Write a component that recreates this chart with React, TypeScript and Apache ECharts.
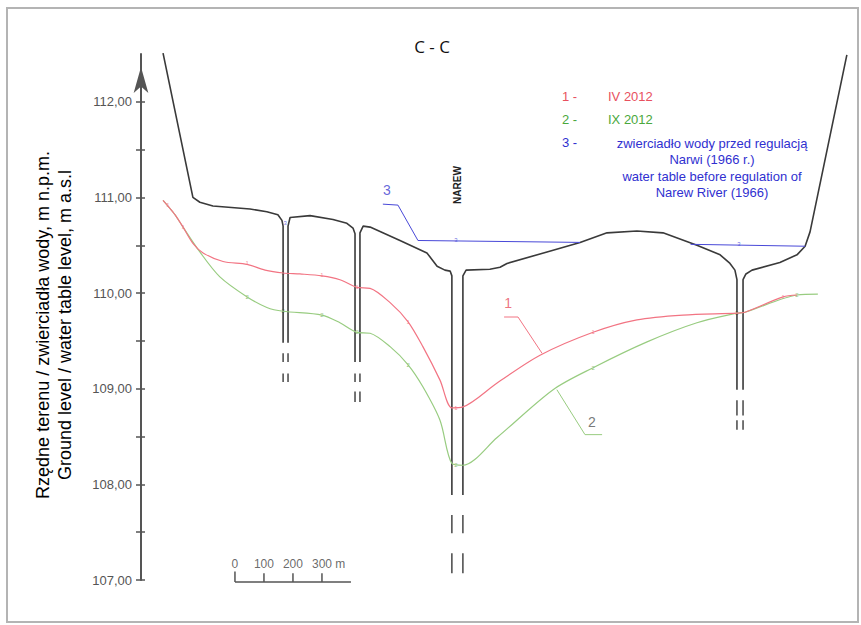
import React, { useEffect, useRef } from "react";
import * as echarts from "echarts";

// ---- data (distance in m along section, elevation in m a.s.l.) ----
const Y_MIN = 107;
const Y_MAX = 112.5;
const X_MAX = 2450;
const yTickValues = [107, 107.5, 108, 108.5, 109, 109.5, 110, 110.5, 111, 111.5, 112];
const yLabelValues = [107, 108, 109, 110, 111, 112];

const groundLeft = [[76, 112.51], [179, 111.0], [203, 110.95], [248, 110.91], [376, 110.88], [434, 110.85], [472, 110.82], [486, 110.76], [490, 110.7], [490, 109.48]];
const groundWell1to2 = [[507, 109.48], [507, 110.7], [514, 110.79], [583, 110.81], [662, 110.77], [710, 110.73], [731, 110.68], [738, 110.62], [738, 109.28]];
const groundWell2toNarew = [[755, 109.28], [755, 110.63], [766, 110.7], [790, 110.69], [893, 110.55], [986, 110.42], [1021, 110.28], [1048, 110.24], [1066, 110.23], [1072, 110.18], [1072, 107.89]];
const groundNarewToWell4 = [[1110, 107.89], [1110, 110.18], [1121, 110.24], [1203, 110.25], [1238, 110.27], [1262, 110.31], [1400, 110.43], [1514, 110.53], [1607, 110.63], [1710, 110.65], [1800, 110.63], [1917, 110.5], [1997, 110.4], [2031, 110.31], [2048, 110.24], [2055, 110.14], [2055, 108.99]];
const groundRight = [[2076, 108.99], [2076, 110.14], [2086, 110.2], [2107, 110.24], [2203, 110.32], [2262, 110.4], [2290, 110.49], [2307, 110.64], [2434, 112.49]];

// wells: wall positions and dashed continuation below
const wells = [
  { walls: [490, 507], dashes: [[109.37, 109.28], [109.16, 109.07]] },
  { walls: [738, 755], dashes: [[109.16, 109.07], [108.97, 108.86]] },
  { walls: [1072, 1110], dashes: [[107.68, 107.49], [107.28, 107.07]] },
  { walls: [2055, 2076], dashes: [[108.88, 108.72], [108.67, 108.57]] },
];

// 1 - IV 2012
const line1 = [[76, 110.97], [93, 110.91], [117, 110.82], [145, 110.69], [179, 110.52], [214, 110.42], [283, 110.33], [366, 110.3], [428, 110.24], [490, 110.21], [548, 110.2], [624, 110.18], [686, 110.14], [745, 110.06], [790, 110.05], [859, 109.9], [921, 109.7], [972, 109.44], [1031, 109.09], [1072, 108.8], [1110, 108.81], [1228, 109.06], [1376, 109.35], [1559, 109.59], [1710, 109.72], [1869, 109.77], [2055, 109.79], [2083, 109.8], [2214, 109.96], [2262, 109.98]];
// 2 - IX 2012
const line2 = [[76, 110.97], [93, 110.91], [117, 110.82], [145, 110.69], [203, 110.43], [272, 110.17], [366, 109.96], [434, 109.85], [490, 109.81], [624, 109.77], [686, 109.69], [745, 109.59], [790, 109.58], [859, 109.44], [921, 109.25], [972, 109.02], [1031, 108.67], [1072, 108.22], [1110, 108.2], [1228, 108.49], [1421, 108.99], [1559, 109.22], [1745, 109.49], [1917, 109.69], [2055, 109.79], [2083, 109.8], [2262, 109.98], [2334, 109.99]];
// 3 - water table before regulation (1966), visible parts only
const line3 = [[955, 110.55], [1514, 110.53], null, [1895, 110.51], [2290, 110.49]];

const marks1 = [[93, 110.92], [145, 110.69], [366, 110.31], [490, 110.21], [624, 110.19], [745, 110.06], [921, 109.7], [1086, 108.8], [1559, 109.59], [2055, 109.79], [2214, 109.96]];
const marks2 = [[366, 109.96], [490, 109.81], [624, 109.77], [745, 109.59], [921, 109.25], [1086, 108.2], [1559, 109.22], [2055, 109.79], [2262, 109.98]];
const marks3 = [[497, 110.73], [1086, 110.55], [2062, 110.51]];

const leader1 = [[1252, 109.75], [1300, 109.75], [1383, 109.37]];
const leader2 = [[1434, 108.99], [1531, 108.52], [1590, 108.52]];
const leader3 = [[834, 110.93], [886, 110.92], [955, 110.55]];
const leaderLabels = [
  { pos: [1266, 109.9], text: "1", color: "#e8505e" },
  { pos: [1555, 108.65], text: "2", color: "#555555" },
  { pos: [848, 111.08], text: "3", color: "#4040d0" },
];

// scale bar
const scaleOrigin = 324;
const scaleTicks = [0, 100, 200, 300];
const scaleLength = 400;
const scaleBarY = 106.98;
const scaleTickTop = 107.07;
const scaleLabelY = 107.17;
const scaleLabels = ["0", "100", "200", "300 m"];

const legendItems = [
  { num: "1 -", text: "IV 2012", color: "#e8505e" },
  { num: "2 -", text: "IX 2012", color: "#4aa83c" },
];
const legend3Lines = ["zwierciadło wody przed regulacją", "Narwi (1966 r.)", "water table before regulation of", "Narew River (1966)"];

const GROUND = "#3a3a3a";
const RED = "#f27483";
const GREEN = "#98cc80";
const BLUE = "#4848d8";
const CLEAR = "rgba(0,0,0,0)";

function joinSegments(segs: number[][][]) {
  const out: any[] = [];
  segs.forEach((s, i) => {
    if (i > 0) out.push(null);
    s.forEach((p) => out.push(p));
  });
  return out;
}

export default function App() {
  const ref = useRef<HTMLDivElement>(null);
  useEffect(() => {
    if (!ref.current) return;
    const chart = echarts.init(ref.current, null, { renderer: "svg" });

    const dashData: any[] = [];
    wells.forEach((w) => {
      w.walls.forEach((x) => {
        w.dashes.forEach((d) => {
          dashData.push([x, d[0]], [x, d[1]], null);
        });
      });
    });

    const scaleData: any[] = [[scaleOrigin, scaleBarY], [scaleOrigin + scaleLength, scaleBarY]];
    scaleTicks.forEach((t, i) => {
      scaleData.push(null, [scaleOrigin + t, i === 0 ? scaleTickTop + 0.02 : scaleTickTop], [scaleOrigin + t, scaleBarY]);
    });

    const base = { type: "line", symbol: "none", clip: false, silent: true, connectNulls: false, animation: false };

    const textScatter = (data: any[], label: any) => ({
      type: "scatter",
      symbol: "circle",
      symbolSize: 2,
      clip: false,
      silent: true,
      itemStyle: { color: CLEAR },
      data,
      label: { show: true, position: "inside", fontFamily: "Liberation Sans", ...label },
    });

    chart.setOption({
      animation: false,
      backgroundColor: "#ffffff",
      grid: { left: 141, right: 9.5, top: 54, bottom: 45, containLabel: false },
      xAxis: { type: "value", min: 0, max: X_MAX, show: false },
      yAxis: [
        {
          type: "value",
          min: Y_MIN,
          max: Y_MAX,
          interval: 0.5,
          splitLine: { show: false },
          axisLine: {
            show: true,
            lineStyle: { color: "#555555", width: 2 },
            symbol: ["none", "arrow"],
            symbolSize: [11, 26],
            symbolOffset: [0, -13],
          },
          axisTick: { show: true, length: 5, customValues: yTickValues, lineStyle: { color: "#555555", width: 1.5 } },
          axisLabel: {
            customValues: yLabelValues,
            formatter: (v: number) => v.toFixed(2).replace(".", ","),
            color: "#555555",
            fontSize: 13,
            fontFamily: "Liberation Sans",
            margin: 9,
          },
          name: "Rzędne terenu / zwierciadła wody, m n.p.m.\nGround level / water table level, m a.s.l",
          nameLocation: "middle",
          nameRotate: 90,
          nameGap: 65,
          nameTextStyle: { color: "#000000", fontSize: 18, lineHeight: 22, fontFamily: "Liberation Sans", padding: [0, 16, 0, 0] },
        },
        {
          type: "value",
          min: Y_MIN,
          max: Y_MAX,
          interval: 0.5,
          position: "left",
          splitLine: { show: false },
          axisLine: { show: false },
          axisLabel: { show: false },
          axisTick: { show: true, inside: true, length: 4, customValues: yTickValues, lineStyle: { color: "#555555", width: 1.5 } },
        },
      ],
      series: [
        { ...base, name: "ground", data: joinSegments([groundLeft, groundWell1to2, groundWell2toNarew, groundNarewToWell4, groundRight]), lineStyle: { color: GROUND, width: 1.6 } },
        { ...base, name: "wellDashes", data: dashData, lineStyle: { color: GROUND, width: 1.4 } },
        { ...base, name: "line3", data: line3, lineStyle: { color: BLUE, width: 1 } },
        { ...base, name: "line2", data: line2, smooth: 0.3, lineStyle: { color: GREEN, width: 1.2 } },
        { ...base, name: "line1", data: line1, smooth: 0.3, lineStyle: { color: RED, width: 1.2 } },
        { ...base, name: "leader1", data: leader1, lineStyle: { color: RED, width: 1 } },
        { ...base, name: "leader2", data: leader2, lineStyle: { color: GREEN, width: 1 } },
        { ...base, name: "leader3", data: leader3, lineStyle: { color: BLUE, width: 1 } },
        textScatter(marks1, { formatter: "1", fontSize: 6, color: RED }),
        textScatter(marks2, { formatter: "2", fontSize: 6, color: "#7ab060" }),
        textScatter(marks3, { formatter: "3", fontSize: 6, color: BLUE }),
        textScatter(
          leaderLabels.map((l) => ({ value: l.pos, label: { formatter: l.text, color: l.color } })),
          { fontSize: 14 }
        ),
        { ...base, name: "scaleBar", data: scaleData, lineStyle: { color: "#555555", width: 1.5 } },
        textScatter(
          scaleTicks.map((t, i) => ({ value: [scaleOrigin + t, scaleLabelY], label: { formatter: scaleLabels[i], align: i === 3 ? "left" : "center", offset: i === 3 ? [-10, 0] : [0, 0] } })),
          { fontSize: 12, color: "#444444" }
        ),
      ],
      graphic: [
        { type: "rect", shape: { x: 7, y: 8, width: 851, height: 614 }, style: { fill: "none", stroke: "#b4b4b4", lineWidth: 2 }, silent: true },
        { type: "text", x: 432, y: 46, style: { text: "C - C", fontSize: 17, fontFamily: "Open Sans", fill: "#111111", align: "center", verticalAlign: "middle" } },
        { type: "text", x: 457, y: 185, rotation: Math.PI / 2, style: { text: "NAREW", fontSize: 10, fontWeight: "bold", fontFamily: "Liberation Sans", fill: "#222222", align: "center", verticalAlign: "middle" } },
        ...legendItems.flatMap((it, i) => [
          { type: "text", x: 562, y: 96 + i * 23, style: { text: it.num, fontSize: 13, fontFamily: "Liberation Sans", fill: it.color, align: "left", verticalAlign: "middle" } },
          { type: "text", x: 608, y: 96 + i * 23, style: { text: it.text, fontSize: 13, fontFamily: "Liberation Sans", fill: it.color, align: "left", verticalAlign: "middle" } },
        ]),
        { type: "text", x: 562, y: 142, style: { text: "3 -", fontSize: 13, fontFamily: "Liberation Sans", fill: "#3030d0", align: "left", verticalAlign: "middle" } },
        ...legend3Lines.map((t, i) => ({ type: "text", x: 712, y: 143 + i * 16.5, style: { text: t, fontSize: 13, fontFamily: "Liberation Sans", fill: "#3030d0", align: "center", verticalAlign: "middle" } })),
      ],
    });
    return () => chart.dispose();
  }, []);
  return <div ref={ref} style={{ position: "absolute", left: 0, top: 0, width: 861, height: 625 }} />;
}
